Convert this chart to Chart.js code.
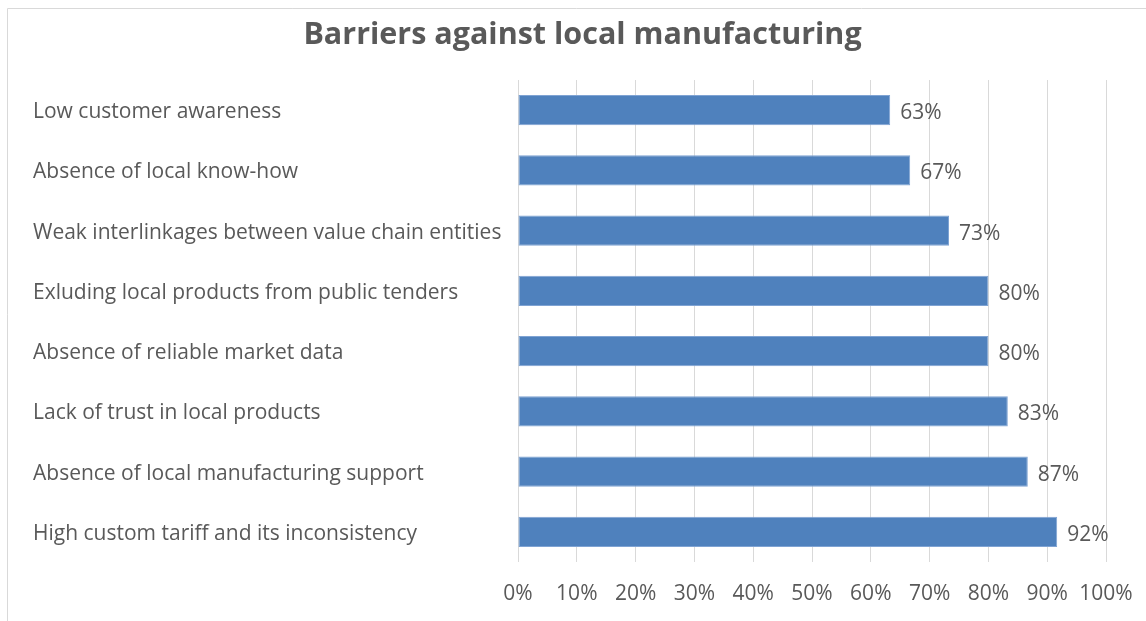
<!DOCTYPE html>
<html>
<head>
<meta charset="utf-8">
<script src="https://cdn.jsdelivr.net/npm/chart.js@4.4.0/dist/chart.umd.min.js"></script>
<style>
  html, body { margin: 0; padding: 0; background: #ffffff; }
  #wrap { position: relative; width: 1146px; height: 621px; }
</style>
</head>
<body>
<div id="wrap"><canvas id="c" width="1146" height="621"></canvas></div>
<script>
const chartTitle = 'Barriers against local manufacturing';
const categories = [
  'Low customer awareness',
  'Absence of local know-how',
  'Weak interlinkages between value chain entities',
  'Exluding local products from public tenders',
  'Absence of reliable market data',
  'Lack of trust in local products',
  'Absence of local manufacturing support',
  'High custom tariff and its inconsistency'
];
const values = [63.3, 66.7, 73.3, 80.0, 80.0, 83.3, 86.7, 91.7];
const xTickValues = [0, 10, 20, 30, 40, 50, 60, 70, 80, 90, 100];

const FONT = "'Open Sans', 'Noto Sans', sans-serif";
const TEXT = '#595959';

const frame = {
  id: 'frame',
  afterLayout(chart) {
    if (chart.titleBlock) {
      chart.titleBlock.left += 13;
      chart.titleBlock.right += 13;
    }
  },
  beforeDraw(chart) {
    const ctx = chart.ctx;
    ctx.save();
    ctx.strokeStyle = '#d9d9d9';
    ctx.lineWidth = 1;
    ctx.beginPath();
    ctx.moveTo(7.5, 621);
    ctx.lineTo(7.5, 8.5);
    ctx.lineTo(1146, 8.5);
    ctx.stroke();
    ctx.restore();
  }
};

const dataLabels = {
  id: 'dataLabels',
  afterDatasetsDraw(chart) {
    const ctx = chart.ctx;
    const meta = chart.getDatasetMeta(0);
    ctx.save();
    ctx.font = '21px ' + FONT;
    ctx.fillStyle = TEXT;
    ctx.textAlign = 'left';
    ctx.textBaseline = 'middle';
    meta.data.forEach((bar, i) => {
      ctx.fillText(Math.round(values[i]) + '%', bar.x + 10, bar.y + 3);
    });
    ctx.restore();
  }
};

new Chart(document.getElementById('c'), {
  type: 'bar',
  data: {
    labels: categories,
    datasets: [{
      data: values,
      backgroundColor: '#4f81bd',
      borderColor: '#7fa3d3',
      borderWidth: 1,
      borderSkipped: false,
      barPercentage: 0.5,
      categoryPercentage: 1.0
    }]
  },
  options: {
    indexAxis: 'y',
    responsive: false,
    animation: false,
    layout: { padding: { left: 33, right: 40, top: 0, bottom: 0 } },
    plugins: {
      legend: { display: false },
      tooltip: { enabled: false },
      title: {
        display: true,
        text: chartTitle,
        color: TEXT,
        font: { family: FONT, size: 30.5, weight: 'bold', lineHeight: 1.2 },
        padding: { top: 17, bottom: 26.4 }
      }
    },
    scales: {
      x: {
        min: 0, max: 100,
        afterBuildTicks(scale) { scale.ticks = xTickValues.map(v => ({ value: v })); },
        afterFit(scale) {
          scale.height = 59;
          scale.paddingLeft = 0;
          scale.paddingRight = 0;
        },
        ticks: {
          color: TEXT,
          font: { family: FONT, size: 21 },
          padding: 19,
          maxRotation: 0,
          minRotation: 0,
          autoSkip: false,
          callback: v => v + '%'
        },
        grid: { color: '#d9d9d9', lineWidth: 1, tickLength: 0, drawTicks: false },
        border: { display: false }
      },
      y: {
        afterFit(scale) { scale.width = 485; },
        ticks: {
          crossAlign: 'far',
          labelOffset: 2,
          color: TEXT,
          font: { family: FONT, size: 21 }
        },
        grid: { display: false },
        border: { display: false }
      }
    }
  },
  plugins: [frame, dataLabels]
});
</script>
</body>
</html>
